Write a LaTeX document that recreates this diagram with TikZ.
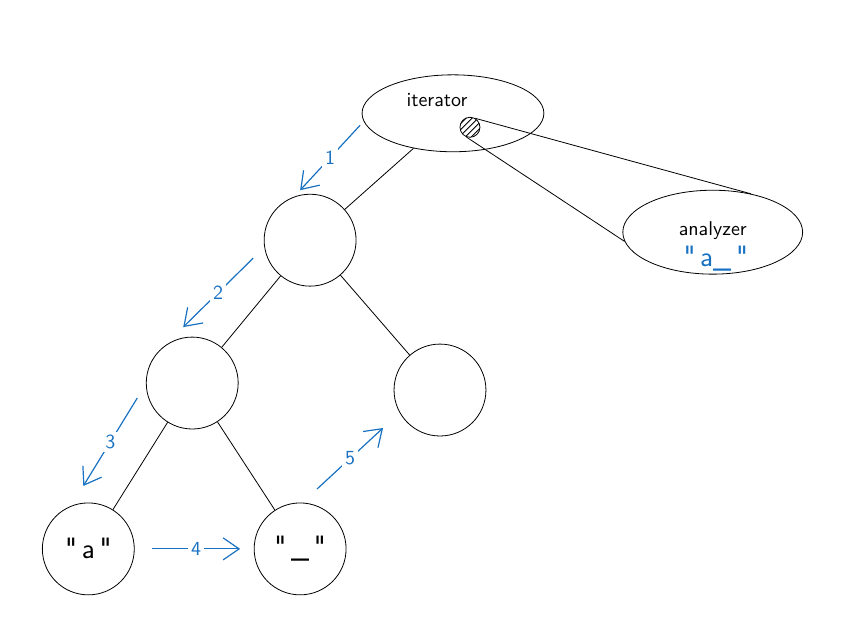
\documentclass[tikz,border=0pt]{standalone}
\usepackage{fontspec}
\setsansfont{Latin Modern Sans}[Ligatures=TeXOff]
\usepackage{tikz}
\usepackage{xcolor}
\usetikzlibrary{shapes.geometric, patterns, arrows.meta}
\definecolor{stepblue}{RGB}{25, 113, 194}
\colorlet{bordercolor}{white}

\tikzset{
        treenode/.style={circle, draw, minimum size=46pt, inner sep=0pt, font=\Large\sffamily},
        bubble/.style={ellipse, draw, inner sep=0pt},
        tag/.style={font=\sffamily},
        walk/.style={stepblue, line width=0.6pt, -{Straight Barb[length=8pt, width=11pt]}},
        walknum/.style={fill=white, text=stepblue, font=\sffamily, inner sep=1.5pt},
}

\begin{document}
\begin{tikzpicture}[x=0.5pt, y=-0.5pt]
        \useasboundingbox[draw=bordercolor] (0, 0) rectangle (863, 620);

        % Iterator and analyzer
        \node[bubble, minimum width=91pt, minimum height=38.5pt] (iter) at (453, 113) {};
        \node[tag] (itertext) at (437, 100) {iterator};
        \node[circle, draw, pattern=north east lines, minimum size=10pt, inner sep=0pt] (probe) at (470, 127) {};
        \node[bubble, minimum width=90pt, minimum height=42pt] (analyzer) at (713, 232) {};
        \node[tag] (analyzertext) at (713, 230) {analyzer};
        \node[text=stepblue, font=\Large\sffamily] (buffer) at (716, 258) {"\,a\_\,"};
        \draw (probe.60) -- (analyzer.45);
        \draw (probe.250) -- (analyzer.186);

        % Tree {{{
        \node[treenode] (n1) at (310, 240) {};
        \node[treenode] (n2) at (192, 383) {};
        \node[treenode] (n3) at (440, 390) {};
        \node[treenode] (n4) at (88, 549) {"\,a\,"};
        \node[treenode] (n5) at (300, 549) {"\,\_\,"};
        \draw (iter) -- (n1);
        \draw (n1) -- (n2) (n1) -- (n3);
        \draw (n2) -- (n4) (n2) -- (n5);
        % }}}

        % Walk order
        \coordinate (w1a) at (360, 125); \coordinate (w1b) at (300, 190);
        \coordinate (w2a) at (253, 258); \coordinate (w2b) at (183, 327);
        \coordinate (w3a) at (137, 398); \coordinate (w3b) at (83, 486);
        \coordinate (w4a) at (152, 549); \coordinate (w4b) at (240, 549);
        \coordinate (w5a) at (317, 489); \coordinate (w5b) at (383, 428);
        \draw[walk] (w1a) -- node[walknum] {1} (w1b);
        \draw[walk] (w2a) -- node[walknum] {2} (w2b);
        \draw[walk] (w3a) -- node[walknum] {3} (w3b);
        \draw[walk] (w4a) -- node[walknum] {4} (w4b);
        \draw[walk] (w5a) -- node[walknum] {5} (w5b);
\end{tikzpicture}
\end{document}
